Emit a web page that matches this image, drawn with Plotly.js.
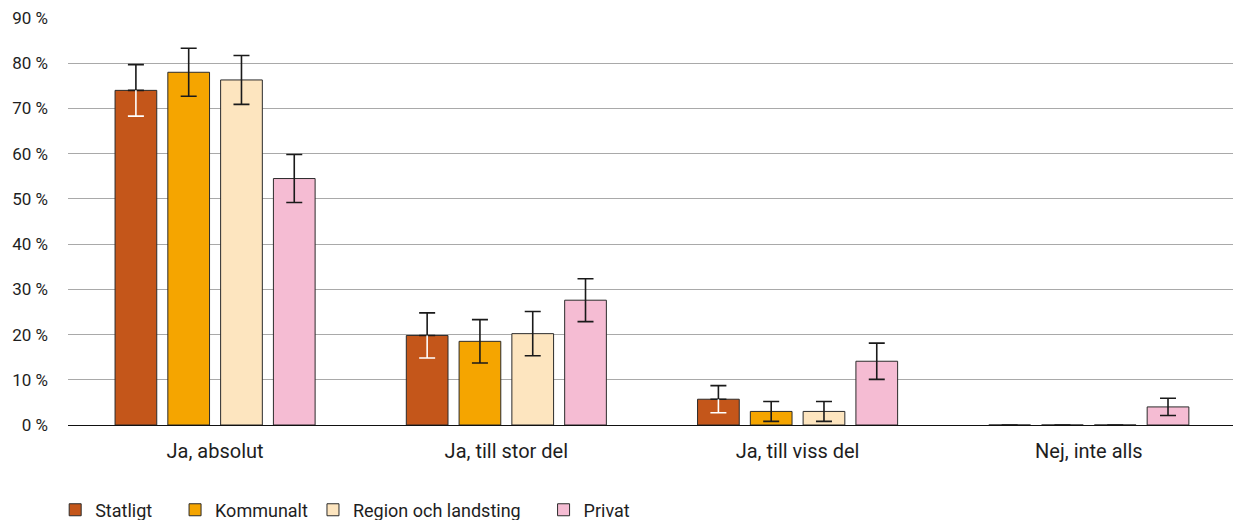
<!DOCTYPE html>
<html>
<head>
<meta charset="utf-8">
<script src="https://cdn.plot.ly/plotly-3.0.1.min.js"></script>
<style>html,body{margin:0;padding:0;background:#fff;}#chart{width:1233px;height:520px;}</style>
</head>
<body>
<div id="chart"></div>
<script>
const categories = ['Ja, absolut', 'Ja, till stor del', 'Ja, till viss del', 'Nej, inte alls'];
const seriesNames = ['Statligt', 'Kommunalt', 'Region och landsting', 'Privat'];
const statligt = [74.0, 19.8, 5.7, 0];
const statligtErr = [5.7, 5.0, 3.0, 0];
const kommunalt = [78.0, 18.5, 3.0, 0];
const kommunaltErr = [5.3, 4.8, 2.2, 0];
const region = [76.3, 20.2, 3.0, 0];
const regionErr = [5.4, 4.9, 2.2, 0];
const privat = [54.5, 27.6, 14.1, 4.0];
const privatErr = [5.3, 4.75, 4.0, 1.9];
const tickVals = [0, 10, 20, 30, 40, 50, 60, 70, 80, 90];
const tickText = ['0 %', '10 %', '20 %', '30 %', '40 %', '50 %', '60 %', '70 %', '80 %', '90 %'];

const colors = ['#C4561A', '#F5A500', '#FDE5BF', '#F5BCD3'];
const lineCol = '#2b2b2b';
const errCol = '#1a1a1a';
const font = 'Roboto, "Open Sans", Arial, sans-serif';
const nb = '\u00a0';
const legendPad = [nb.repeat(4), '', nb.repeat(4), ''];

function mainTrace(idx, y, err, upperOnly) {
  return {
    type: 'bar', name: seriesNames[idx] + legendPad[idx], x: categories, y: y, offsetgroup: 'g' + idx,
    marker: {color: colors[idx], line: {color: lineCol, width: 1}},
    error_y: {type: 'data', symmetric: false, array: err,
      arrayminus: upperOnly ? err.map(() => 0) : err,
      color: errCol, thickness: 1.6, width: 8, visible: true},
    hoverinfo: 'skip'
  };
}
const traces = [
  mainTrace(0, statligt, statligtErr, true),
  mainTrace(1, kommunalt, kommunaltErr, false),
  mainTrace(2, region, regionErr, false),
  mainTrace(3, privat, privatErr, false),
  // white lower stem inside the dark bar
  {
    type: 'bar', x: categories, y: statligt.map((v, i) => statligtErr[i] > 0 ? v : null),
    offsetgroup: 'g0', showlegend: false, hoverinfo: 'skip',
    marker: {color: 'rgba(0,0,0,0)', line: {width: 0}},
    error_y: {type: 'data', symmetric: false, array: statligt.map(() => 0), arrayminus: statligtErr,
      color: '#ffffff', thickness: 1.6, width: 0}
  },
  // white lower cap
  {
    type: 'bar', x: categories, y: statligt.map((v, i) => statligtErr[i] > 0 ? v - statligtErr[i] : null),
    offsetgroup: 'g0', showlegend: false, hoverinfo: 'skip',
    marker: {color: 'rgba(0,0,0,0)', line: {width: 0}},
    error_y: {type: 'data', symmetric: false, array: statligt.map(() => 0), arrayminus: statligt.map(() => 0),
      color: '#ffffff', thickness: 1.6, width: 8}
  }
];

const layout = {
  width: 1233, height: 520,
  margin: {l: 68, r: 0, t: 18, b: 95, autoexpand: false},
  paper_bgcolor: '#fff', plot_bgcolor: '#fff',
  barmode: 'group', bargap: 0.275, bargroupgap: 0.21,
  font: {family: font, size: 16, color: '#1e1e1e'},
  xaxis: {type: 'category', range: [-0.505, 3.495], tickfont: {size: 20, color: '#1e1e1e'}, showgrid: false,
    showline: false, ticks: '', ticklabelstandoff: 12, fixedrange: true},
  yaxis: {range: [0, 90], tickvals: tickVals, ticktext: tickText,
    showgrid: true, gridcolor: '#a9a9a9', gridwidth: 1,
    zeroline: true, zerolinecolor: '#111111', zerolinewidth: 1,
    tickfont: {size: 17, color: '#1e1e1e'}, ticks: '', ticklabelstandoff: 19, fixedrange: true},
  legend: {orientation: 'h', x: -0.011, xanchor: 'left', y: -0.209, yanchor: 'middle',
    font: {size: 18, color: '#1e1e1e'}, itemwidth: 30, traceorder: 'normal'},
  showlegend: true
};
Plotly.newPlot('chart', traces, layout, {displayModeBar: false, staticPlot: true});
</script>
</body>
</html>
